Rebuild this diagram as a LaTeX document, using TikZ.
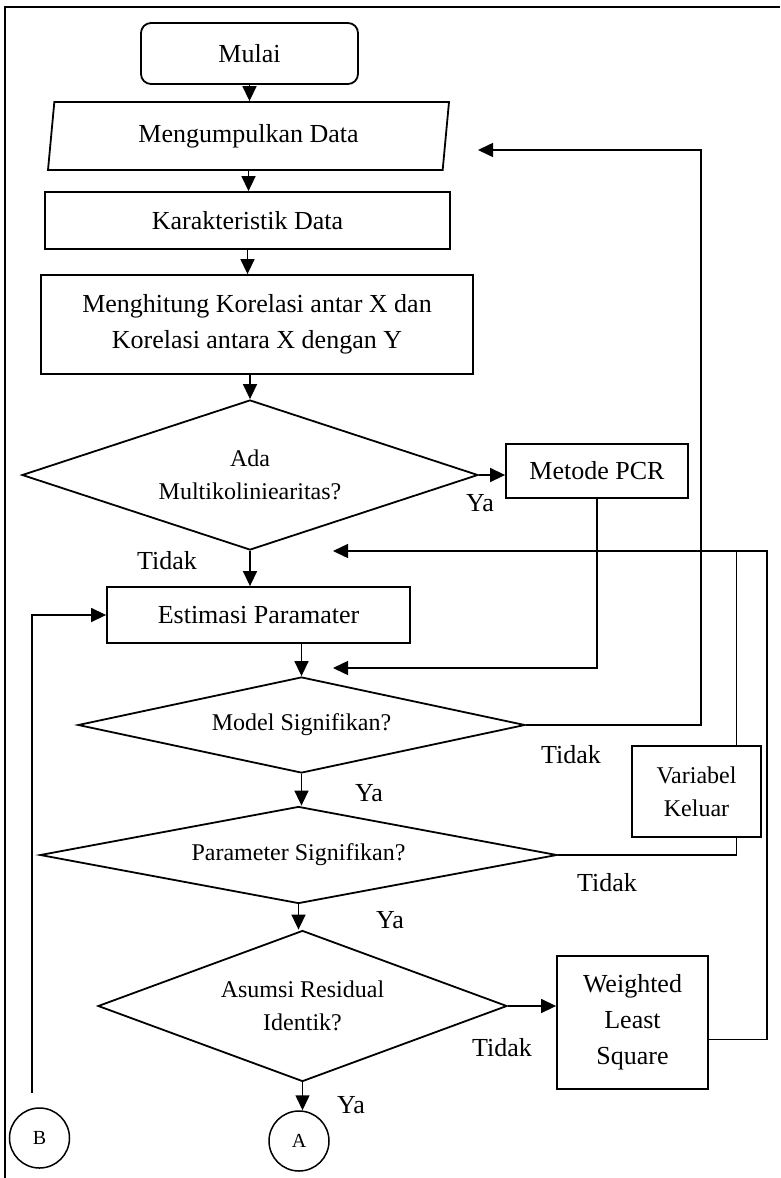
\documentclass[tikz,border=0pt]{standalone}
\usepackage{fontspec}
\setmainfont{Liberation Serif}
\usetikzlibrary{shapes.geometric,arrows.meta}

\newcommand{\BoxFont}{\fontsize{26}{36}\selectfont}
\newcommand{\AskFont}{\fontsize{24}{33}\selectfont}
\tikzset{
  flow/.style={line width=1.5pt},
  arr/.style={flow,-{Triangle[length=15pt,width=14pt]}},
  proc/.style={draw,line width=1.8pt,align=center,font=\BoxFont,inner sep=0pt},
  ask/.style={draw,diamond,line width=1.8pt,align=center,font=\AskFont,inner sep=0pt},
  conn/.style={draw,circle,line width=1.5pt,minimum size=60pt,inner sep=0pt,font=\fontsize{20}{24}\selectfont},
  lbl/.style={font=\BoxFont,inner sep=0pt}
}

\begin{document}
\begin{tikzpicture}[x=1pt,y=-1pt]
  \useasboundingbox (0,0) rectangle (780,1178);
  \draw[flow] (5,1178) -- (5,7) -- (780,7);

  \node[proc,rounded corners=10pt,minimum width=217pt,minimum height=61pt] (mulai) at (249.5,53.5) {Mulai};
  \node[proc,trapezium,trapezium left angle=75,trapezium right angle=105,trapezium stretches body,
        minimum width=401pt,minimum height=68pt] (data) at (248.5,136) {Mengumpulkan Data};
  \node[proc,minimum width=405pt,minimum height=57pt] (karak) at (247.5,220.5) {Karakteristik Data};
  \node[proc,minimum width=432pt,minimum height=99pt] (hitung) at (257,324.5)
    {Menghitung Korelasi antar X dan\\Korelasi antara X dengan Y};
  \node[ask,aspect=3.04,minimum width=456pt,minimum height=150pt] (multi) at (250,475) {Ada\\Multikoliniearitas?};
  \node[proc,minimum width=182pt,minimum height=54pt] (pcr) at (597,471) {Metode PCR};
  \node[proc,minimum width=303pt,minimum height=56pt] (estim) at (258.5,615) {Estimasi Paramater};
  \node[ask,aspect=4.66,minimum width=447pt,minimum height=96pt] (model) at (301.5,725) {Model Signifikan?};
  \node[proc,font=\AskFont,minimum width=129pt,minimum height=91pt] (varkel) at (696.5,791.5) {Variabel\\Keluar};
  \node[ask,aspect=5.33,minimum width=517pt,minimum height=97pt] (param) at (298.5,855) {Parameter Signifikan?};
  \node[ask,aspect=2.71,minimum width=409pt,minimum height=151pt] (asumsi) at (302.5,1006) {Asumsi Residual\\Identik?};
  \node[proc,minimum width=151pt,minimum height=133pt] (wls) at (632.5,1022.5) {Weighted\\Least\\Square};
  \node[conn] (circA) at (299,1141) {A};
  \node[conn] (circB) at (39.5,1138) {B};

  \node[lbl] (ya1) at (480,503) {Ya};
  \node[lbl] (tidak1) at (167,561) {Tidak};
  \node[lbl] (tidak2) at (571,755) {Tidak};
  \node[lbl] (ya2) at (369,793) {Ya};
  \node[lbl] (tidak3) at (607,883) {Tidak};
  \node[lbl] (ya3) at (390,920) {Ya};
  \node[lbl] (tidak4) at (502,1048) {Tidak};
  \node[lbl] (ya4) at (351,1105) {Ya};

  % main line
  \draw[arr] (mulai.south) -- (mulai.south |- data.north);
  \draw[arr] (data.south) -- (data.south |- karak.north);
  \draw[arr] (karak.south) -- (karak.south |- hitung.north);
  \draw[arr] (multi.north |- hitung.south) -- (multi.north);
  \draw[arr] (multi.south) -- (multi.south |- estim.north);
  \draw[arr] (multi.east) -- (multi.east -| pcr.west);
  \draw[arr] (model.north |- estim.south) -- (model.north);
  \draw[arr] (model.south) -- (model.south |- param.north);
  \draw[arr] (param.south) -- (param.south |- asumsi.north);
  \draw[arr] (asumsi.south) -- (asumsi.south |- circA.north);
  \draw[arr] (asumsi.east) -- (asumsi.east -| wls.west);

  % loops back
  \coordinate (pcrin) at (333,668);
  \coordinate (datain) at (478,150);
  \coordinate (estin) at (333,551);
  \coordinate (bend) at (32,1093);
  \draw[arr] (pcr.south) |- (pcrin);
  \draw[arr] (model.east) -- ++(175,0) |- (datain);
  \draw[flow] (param.east) -| ([xshift=40pt]varkel.south);
  \draw[flow] ([xshift=40pt]varkel.north) -- ([xshift=40pt]varkel.north |- estin);
  \draw[arr] ([yshift=-17pt]wls.east) -- ++(58,0) |- (estin);
  \draw[arr] (bend) |- (estim.west);
\end{tikzpicture}
\end{document}
